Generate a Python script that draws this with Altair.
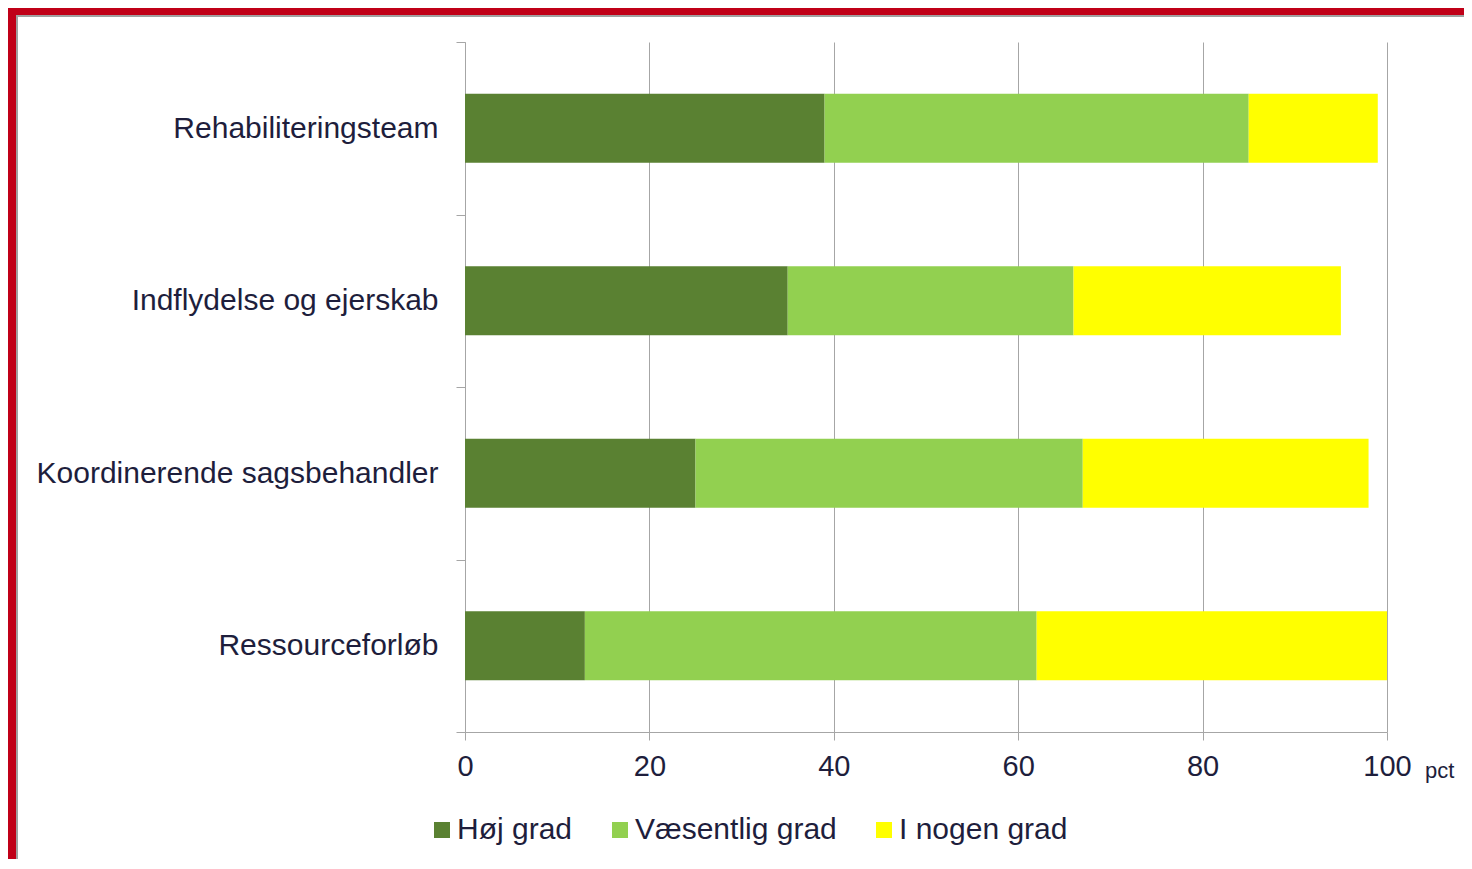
import altair as alt
import pandas as pd

categories = ["Rehabiliteringsteam", "Indflydelse og ejerskab",
              "Koordinerende sagsbehandler", "Ressourceforløb"]
series = ["Høj grad", "Væsentlig grad", "I nogen grad"]
hoj_grad = [39, 35, 25, 13]
vaesentlig_grad = [46, 31, 42, 49]
i_nogen_grad = [14, 29, 31, 38]
colors = ["#5A8132", "#92D050", "#FFFF00"]
x_ticks = [0, 20, 40, 60, 80, 100]

rows = []
for i, c in enumerate(categories):
    for j, (s, vals) in enumerate(zip(series, [hoj_grad, vaesentlig_grad, i_nogen_grad])):
        rows.append({"kategori": c, "serie": s, "pct": vals[i], "orden": j})
df = pd.DataFrame(rows)

FONT = "Liberation Sans"
TXT = "#1E1E3C"
GRID = "#A6A6A6"
W, H = 922, 690
PL, PT, PR, PB = 457, 34, 77, 127

bars = alt.Chart(df).mark_bar(size=69).encode(
    y=alt.Y("kategori:N", sort=categories,
            scale=alt.Scale(paddingInner=0, paddingOuter=0),
            axis=alt.Axis(title=None, labelFontSize=30, labelColor=TXT, labelFont=FONT,
                          labelPadding=18, tickSize=9, tickColor=GRID, domainColor=GRID,
                          tickBand="extent", grid=False, labelLimit=600)),
    x=alt.X("pct:Q", stack="zero",
            scale=alt.Scale(domain=[0, 100], nice=False),
            axis=alt.Axis(title=None, values=x_ticks, labelFontSize=29, labelColor=TXT,
                          labelFont=FONT, labelPadding=12, tickSize=8, tickColor=GRID,
                          domainColor=GRID, grid=True, gridColor=GRID, gridWidth=1,
                          labelFlush=False)),
    color=alt.Color("serie:N", sort=series,
                    scale=alt.Scale(domain=series, range=colors),
                    legend=alt.Legend(title=None, orient="none", direction="horizontal",
                                      legendX=-38, legendY=773, symbolType="square",
                                      symbolSize=256, symbolStrokeWidth=0,
                                      labelFontSize=30, labelFont=FONT, labelColor=TXT,
                                      labelOffset=0, columnPadding=32, padding=0,
                                      labelLimit=600)),
    order=alt.Order("orden:Q"),
)

one = pd.DataFrame({"a": [0]})
pct_text = alt.Chart(one).mark_text(text="pct", fontSize=22, font=FONT, color=TXT,
                                    align="left", baseline="alphabetic").encode(
    x=alt.value(W + 38), y=alt.value(H + 46))

red_top = alt.Chart(one).mark_rect(color="#C00018").encode(
    x=alt.value(-PL), x2=alt.value(W + PR), y=alt.value(-PT), y2=alt.value(-PT + 7))
red_left = alt.Chart(one).mark_rect(color="#C00018").encode(
    x=alt.value(-PL), x2=alt.value(-PL + 8), y=alt.value(-PT), y2=alt.value(H + PB))
gray_top = alt.Chart(one).mark_rect(color="#A0A0A0").encode(
    x=alt.value(-PL + 8), x2=alt.value(W + PR), y=alt.value(-PT + 7), y2=alt.value(-PT + 9))
gray_left = alt.Chart(one).mark_rect(color="#A0A0A0").encode(
    x=alt.value(-PL + 8), x2=alt.value(-PL + 10), y=alt.value(-PT + 7), y2=alt.value(H + PB))

chart = alt.layer(bars, pct_text, gray_top, gray_left, red_top, red_left).properties(
    width=W, height=H,
    autosize=alt.AutoSizeParams(type="none"),
    padding={"left": PL, "top": PT, "right": PR, "bottom": PB},
    background="white",
).configure_view(stroke=None)

chart.save("out.html", embed_options={"renderer": "svg", "actions": False})
